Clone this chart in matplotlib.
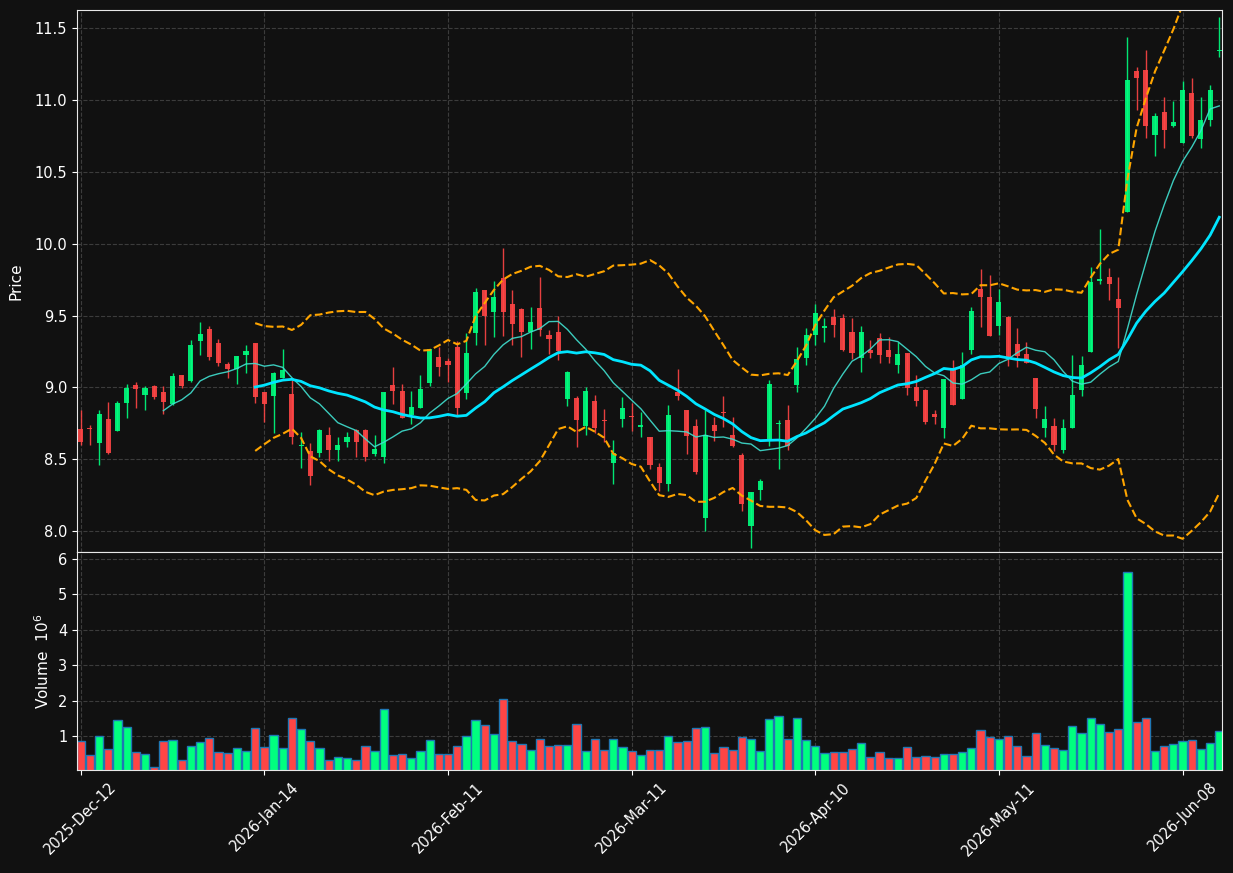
import numpy as np
import pandas as pd
import matplotlib
matplotlib.use("Agg")
import matplotlib.pyplot as plt

# daily OHLC (one entry per trading day)
opens = [8.71, 8.72, 8.616, 8.778, 8.700, 8.893, 9.014, 8.947, 9.007, 8.966,
         8.884, 9.085, 9.046, 9.323, 9.405, 9.308, 9.161, 9.130, 9.224, 9.308,
         8.966, 8.941, 9.067, 8.953, 8.589, 8.560, 8.543, 8.671, 8.565, 8.620,
         8.705, 8.705, 8.539, 8.517, 9.014, 8.975, 8.809, 8.857, 9.031, 9.212,
         9.183, 9.279, 8.961, 9.378, 9.675, 9.526, 9.760, 9.579, 9.545, 9.388,
         9.552, 9.364, 9.386, 8.917, 8.927, 8.731, 8.905, 8.770, 8.471, 8.780,
         8.797, 8.727, 8.654, 8.447, 8.331, 8.966, 8.843, 8.731, 8.089, 8.736,
         8.828, 8.669, 8.531, 8.036, 8.283, 8.640, 8.744, 8.773, 9.014, 9.207,
         9.364, 9.415, 9.487, 9.482, 9.386, 9.207, 9.260, 9.345, 9.260, 9.159,
         9.238, 9.002, 8.983, 8.816, 8.719, 9.134, 8.922, 9.262, 9.682, 9.627,
         9.424, 9.490, 9.299, 9.231, 9.062, 8.717, 8.731, 8.565, 8.719, 8.985,
         9.248, 9.740, 9.767, 9.617, 10.221, 11.203, 11.210, 10.757, 10.916, 10.819,
         10.699, 11.051, 10.728, 10.860, 11.338]
highs = [8.84, 8.735, 8.84, 8.896, 8.908, 9.022, 9.036, 9.012, 9.015, 9.007,
         9.097, 9.088, 9.333, 9.453, 9.424, 9.340, 9.178, 9.220, 9.292, 9.310,
         8.970, 9.105, 9.267, 9.050, 8.688, 8.616, 8.710, 8.724, 8.652, 8.688,
         8.710, 8.712, 8.669, 8.970, 9.142, 9.021, 8.973, 9.086, 9.270, 9.279,
         9.207, 9.323, 9.381, 9.690, 9.680, 9.738, 9.972, 9.675, 9.550, 9.562,
         9.769, 9.400, 9.497, 9.115, 8.941, 9.002, 8.946, 8.852, 8.632, 8.934,
         8.893, 8.826, 8.655, 8.471, 8.881, 9.127, 8.845, 8.777, 8.846, 8.792,
         8.937, 8.792, 8.543, 8.275, 8.362, 9.048, 8.773, 8.876, 9.279, 9.412,
         9.581, 9.485, 9.545, 9.514, 9.482, 9.429, 9.328, 9.376, 9.352, 9.316,
         9.240, 9.086, 8.990, 8.845, 9.060, 9.188, 9.243, 9.562, 9.822, 9.779,
         9.682, 9.497, 9.410, 9.316, 9.065, 8.869, 8.785, 8.777, 9.224, 9.217,
         9.835, 10.100, 9.830, 9.769, 11.440, 11.230, 11.348, 10.909, 11.022, 10.993,
         11.131, 11.155, 11.022, 11.102, 11.577]
lows = [8.60, 8.60, 8.459, 8.535, 8.695, 8.790, 8.855, 8.840, 8.916, 8.813,
        8.880, 8.995, 9.040, 9.226, 9.188, 9.147, 9.062, 9.021, 9.098, 8.888,
        8.760, 8.681, 9.065, 8.608, 8.439, 8.319, 8.519, 8.488, 8.490, 8.584,
        8.519, 8.490, 8.524, 8.473, 8.884, 8.785, 8.748, 8.855, 9.007, 9.079,
        9.038, 8.809, 8.916, 9.292, 9.292, 9.352, 9.359, 9.292, 9.212, 9.265,
        9.361, 9.231, 9.188, 8.869, 8.587, 8.666, 8.681, 8.620, 8.326, 8.724,
        8.700, 8.652, 8.435, 8.278, 8.278, 8.910, 8.536, 8.398, 8.000, 8.628,
        8.724, 8.585, 8.140, 7.884, 8.217, 8.592, 8.435, 8.567, 8.966, 9.159,
        9.292, 9.316, 9.352, 9.255, 9.195, 9.110, 9.207, 9.171, 9.173, 9.098,
        8.949, 8.869, 8.744, 8.744, 8.647, 8.880, 8.920, 9.231, 9.417, 9.355,
        9.364, 9.151, 9.139, 9.170, 8.785, 8.657, 8.555, 8.543, 8.719, 8.941,
        9.245, 9.719, 9.605, 9.275, 10.220, 10.933, 10.732, 10.612, 10.667, 10.812,
        10.699, 10.732, 10.667, 10.819, 11.300]
closes = [8.62, 8.71, 8.812, 8.541, 8.889, 8.993, 8.990, 8.993, 8.935, 8.899,
          9.077, 9.007, 9.294, 9.371, 9.214, 9.171, 9.127, 9.217, 9.253, 8.935,
          8.884, 9.101, 9.120, 8.652, 8.601, 8.386, 8.705, 8.565, 8.596, 8.654,
          8.620, 8.517, 8.572, 8.966, 8.975, 8.789, 8.864, 8.990, 9.267, 9.142,
          9.154, 8.857, 9.236, 9.663, 9.497, 9.627, 9.526, 9.444, 9.388, 9.458,
          9.400, 9.337, 9.250, 9.110, 8.773, 8.973, 8.717, 8.763, 8.543, 8.857,
          8.792, 8.739, 8.459, 8.338, 8.809, 8.937, 8.664, 8.411, 8.671, 8.700,
          8.821, 8.589, 8.188, 8.270, 8.348, 9.024, 8.753, 8.592, 9.200, 9.364,
          9.521, 9.427, 9.436, 9.262, 9.241, 9.388, 9.238, 9.226, 9.214, 9.231,
          8.997, 8.905, 8.760, 8.797, 9.057, 8.881, 9.159, 9.530, 9.627, 9.359,
          9.593, 9.195, 9.219, 9.171, 8.852, 8.777, 8.601, 8.717, 8.946, 9.154,
          9.731, 9.752, 9.721, 9.552, 11.140, 11.150, 10.817, 10.885, 10.793, 10.843,
          11.066, 10.747, 10.863, 11.066, 11.350]
# volume in millions
volumes = [0.86, 0.46, 1.00, 0.63, 1.45, 1.26, 0.55, 0.49, 0.14, 0.86,
           0.89, 0.32, 0.72, 0.83, 0.94, 0.55, 0.52, 0.66, 0.57, 1.23,
           0.69, 1.03, 0.66, 1.51, 1.20, 0.86, 0.66, 0.32, 0.40, 0.375,
           0.32, 0.72, 0.57, 1.77, 0.46, 0.49, 0.375, 0.57, 0.89, 0.49,
           0.49, 0.72, 1.00, 1.45, 1.31, 1.06, 2.05, 0.86, 0.77, 0.60,
           0.915, 0.72, 0.745, 0.745, 1.34, 0.57, 0.915, 0.60, 0.915, 0.69,
           0.57, 0.46, 0.60, 0.60, 1.00, 0.83, 0.86, 1.23, 1.26, 0.52,
           0.69, 0.60, 0.97, 0.915, 0.57, 1.48, 1.57, 0.915, 1.51, 0.89,
           0.72, 0.52, 0.55, 0.55, 0.63, 0.80, 0.40, 0.55, 0.375, 0.375,
           0.69, 0.40, 0.43, 0.40, 0.49, 0.49, 0.55, 0.66, 1.17, 0.97,
           0.915, 1.00, 0.72, 0.43, 1.085, 0.745, 0.66, 0.60, 1.28, 1.085,
           1.51, 1.34, 1.11, 1.20, 5.63, 1.40, 1.51, 0.57, 0.72, 0.77,
           0.86, 0.89, 0.63, 0.80, 1.14]
tick_pos = [0, 20, 40, 60, 80, 100, 120]
tick_labels = ["2025-Dec-12", "2026-Jan-14", "2026-Feb-11", "2026-Mar-11",
               "2026-Apr-10", "2026-May-11", "2026-Jun-08"]

df = pd.DataFrame({"o": opens, "h": highs, "l": lows, "c": closes, "v": volumes})
x = np.arange(len(df))
mav10 = df["c"].rolling(10).mean()
mav20 = df["c"].rolling(20).mean()
std20 = df["c"].rolling(20).std()
upper = mav20 + 2 * std20
lower = mav20 - 2 * std20

up_col = "#00ff7f"
down_col = "#ff4545"
bg = "#111111"
up = df["c"] >= df["o"]
cols = np.where(up, up_col, down_col)

fig = plt.figure(figsize=(12.33, 8.73), dpi=100, facecolor=bg)
ax = fig.add_axes([0.0625, 0.3677, 0.9286, 0.6208])
axv = fig.add_axes([0.0625, 0.118, 0.9286, 0.2497], sharex=ax)

for a in (ax, axv):
    a.set_facecolor(bg)
    a.grid(True, color="#3c3c3c", linestyle="--", linewidth=0.8)
    a.set_axisbelow(True)
    for s in a.spines.values():
        s.set_color("#e8e8e8")
    a.tick_params(colors="white", labelsize=10.5)

# candles
ax.vlines(x, df["l"], df["h"], colors=cols, linewidth=1, alpha=0.9)
body = np.maximum((df["c"] - df["o"]).abs(), 0.006)
ax.bar(x, body, bottom=np.minimum(df["o"], df["c"]), width=0.55,
       color=cols, alpha=0.9, linewidth=0)

ax.plot(x, mav10, color="#40e0d0", linewidth=1, alpha=0.9)
ax.plot(x, mav20, color="#00e5ff", linewidth=2)
ax.plot(x, upper, color="orange", linestyle="--", linewidth=1.5)
ax.plot(x, lower, color="orange", linestyle="--", linewidth=1.5)

ax.set_ylim(7.855, 11.625)
ax.set_yticks(np.arange(8.0, 11.51, 0.5))
ax.set_yticklabels([f"{v:.1f}" for v in np.arange(8.0, 11.51, 0.5)])
ax.set_ylabel("Price", color="white", fontsize=11, labelpad=8)
ax.tick_params(axis="x", labelbottom=False)

# volume
axv.bar(x, df["v"], width=0.9, color=cols, edgecolor="#1f77b4", linewidth=1)
axv.set_ylim(0.3 * df["v"].min(), 1.1 * df["v"].max())
axv.set_yticks([1, 2, 3, 4, 5, 6])
axv.set_ylabel("Volume  $10^{6}$", color="white", fontsize=11)

axv.set_xlim(-0.4, len(df) - 0.7)
axv.set_xticks(tick_pos)
axv.set_xticklabels(tick_labels, rotation=45, ha="center")

fig.savefig("out.png", dpi=100, facecolor=bg)
